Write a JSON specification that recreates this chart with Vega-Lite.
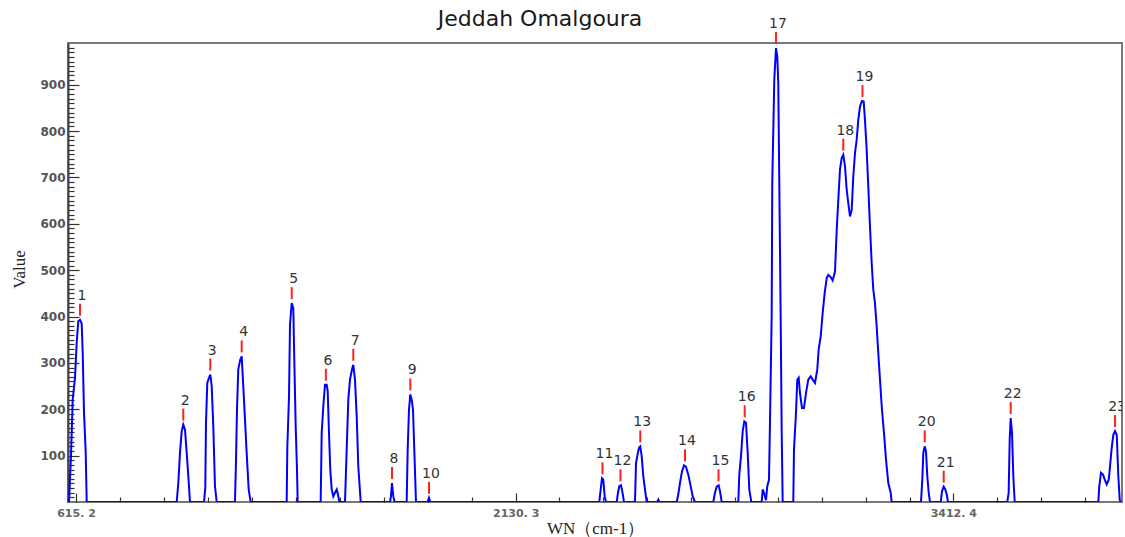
{
  "$schema": "https://vega.github.io/schema/vega-lite/v6.json",
  "width": 1054,
  "height": 459,
  "autosize": {"type": "none"},
  "padding": {"left": 68, "top": 43, "right": 3, "bottom": 35},
  "background": "white",
  "title": {"text": "Jeddah Omalgoura", "font": "DejaVu Sans", "fontSize": 22, "fontWeight": "normal", "color": "#1a1a1a", "anchor": "middle", "dx": -55, "dy": 28, "offset": 14},
  "config": {"view": {"stroke": "#777777", "strokeWidth": 2}},
  "datasets": {
    "spectrum": [
      {"wn": 591.1, "v": 0}, {"wn": 598.0, "v": 102}, {"wn": 603.8, "v": 221}, {"wn": 611.8, "v": 268}, {"wn": 617.6, "v": 344}, {"wn": 623.1, "v": 390}, {"wn": 629.0, "v": 393}, {"wn": 634.8, "v": 385}, {"wn": 638.3, "v": 322}, {"wn": 642.8, "v": 193}, {"wn": 648.6, "v": 107}, {"wn": 652.1, "v": 0},
      {"wn": 962.2, "v": 0}, {"wn": 967.7, "v": 41}, {"wn": 973.5, "v": 106}, {"wn": 979.4, "v": 153}, {"wn": 984.9, "v": 167}, {"wn": 990.8, "v": 156}, {"wn": 996.6, "v": 106}, {"wn": 1002.2, "v": 56}, {"wn": 1008.0, "v": 0},
      {"wn": 1056.2, "v": 0}, {"wn": 1060.7, "v": 31}, {"wn": 1063.1, "v": 171}, {"wn": 1067.6, "v": 257}, {"wn": 1073.5, "v": 268}, {"wn": 1078.0, "v": 275}, {"wn": 1082.8, "v": 250}, {"wn": 1088.3, "v": 163}, {"wn": 1094.1, "v": 34}, {"wn": 1100.0, "v": 0},
      {"wn": 1163.0, "v": 0}, {"wn": 1166.5, "v": 88}, {"wn": 1169.9, "v": 199}, {"wn": 1174.4, "v": 286}, {"wn": 1181.3, "v": 307}, {"wn": 1186.1, "v": 314}, {"wn": 1191.6, "v": 250}, {"wn": 1197.5, "v": 178}, {"wn": 1203.3, "v": 106}, {"wn": 1210.2, "v": 27}, {"wn": 1217.1, "v": 0},
      {"wn": 1341.2, "v": 0}, {"wn": 1343.3, "v": 117}, {"wn": 1349.2, "v": 228}, {"wn": 1352.6, "v": 383}, {"wn": 1358.5, "v": 429}, {"wn": 1364.0, "v": 418}, {"wn": 1367.4, "v": 307}, {"wn": 1372.2, "v": 163}, {"wn": 1376.7, "v": 70}, {"wn": 1379.1, "v": 0},
      {"wn": 1458.3, "v": 0}, {"wn": 1461.8, "v": 149}, {"wn": 1467.3, "v": 206}, {"wn": 1473.2, "v": 253}, {"wn": 1479.0, "v": 253}, {"wn": 1482.5, "v": 239}, {"wn": 1487.0, "v": 149}, {"wn": 1491.4, "v": 70}, {"wn": 1496.3, "v": 27}, {"wn": 1501.8, "v": 12}, {"wn": 1507.6, "v": 20}, {"wn": 1513.5, "v": 27}, {"wn": 1518.0, "v": 16}, {"wn": 1522.4, "v": 0},
      {"wn": 1542.1, "v": 0}, {"wn": 1547.9, "v": 113}, {"wn": 1553.5, "v": 221}, {"wn": 1559.3, "v": 264}, {"wn": 1566.2, "v": 286}, {"wn": 1570.7, "v": 296}, {"wn": 1576.5, "v": 264}, {"wn": 1582.4, "v": 185}, {"wn": 1587.9, "v": 77}, {"wn": 1596.2, "v": 0},
      {"wn": 1697.1, "v": 0}, {"wn": 1700.5, "v": 12}, {"wn": 1704.0, "v": 41}, {"wn": 1708.5, "v": 12}, {"wn": 1713.3, "v": 0},
      {"wn": 1754.6, "v": 0}, {"wn": 1758.1, "v": 113}, {"wn": 1762.6, "v": 199}, {"wn": 1767.1, "v": 232}, {"wn": 1771.9, "v": 221}, {"wn": 1776.4, "v": 199}, {"wn": 1780.9, "v": 113}, {"wn": 1786.7, "v": 0},
      {"wn": 1827.0, "v": 0}, {"wn": 1831.5, "v": 9}, {"wn": 1836.0, "v": 0},
      {"wn": 2375.2, "v": 0}, {"wn": 2379.3, "v": 27}, {"wn": 2383.1, "v": 51}, {"wn": 2386.9, "v": 48}, {"wn": 2391.0, "v": 12}, {"wn": 2394.8, "v": 0},
      {"wn": 2426.3, "v": 0}, {"wn": 2430.0, "v": 20}, {"wn": 2433.8, "v": 34}, {"wn": 2438.8, "v": 36}, {"wn": 2442.6, "v": 23}, {"wn": 2447.6, "v": 0},
      {"wn": 2479.8, "v": 0}, {"wn": 2482.8, "v": 84}, {"wn": 2486.5, "v": 99}, {"wn": 2491.5, "v": 117}, {"wn": 2495.3, "v": 120}, {"wn": 2499.4, "v": 99}, {"wn": 2504.1, "v": 56}, {"wn": 2509.1, "v": 27}, {"wn": 2514.1, "v": 0},
      {"wn": 2545.0, "v": 0}, {"wn": 2548.1, "v": 5}, {"wn": 2551.0, "v": 0},
      {"wn": 2601.9, "v": 0}, {"wn": 2606.6, "v": 16}, {"wn": 2611.6, "v": 41}, {"wn": 2617.5, "v": 66}, {"wn": 2623.4, "v": 79}, {"wn": 2629.2, "v": 76}, {"wn": 2636.0, "v": 59}, {"wn": 2643.0, "v": 34}, {"wn": 2648.9, "v": 12}, {"wn": 2655.6, "v": 0},
      {"wn": 2709.2, "v": 0}, {"wn": 2714.2, "v": 20}, {"wn": 2719.2, "v": 33}, {"wn": 2725.0, "v": 36}, {"wn": 2728.9, "v": 23}, {"wn": 2733.9, "v": 0},
      {"wn": 2782.5, "v": 0}, {"wn": 2785.4, "v": 59}, {"wn": 2790.4, "v": 99}, {"wn": 2795.4, "v": 153}, {"wn": 2800.1, "v": 174}, {"wn": 2805.0, "v": 171}, {"wn": 2810.0, "v": 106}, {"wn": 2814.7, "v": 27}, {"wn": 2820.6, "v": 0},
      {"wn": 2851.0, "v": 0}, {"wn": 2853.9, "v": 27}, {"wn": 2857.7, "v": 20}, {"wn": 2863.6, "v": 4}, {"wn": 2867.4, "v": 34}, {"wn": 2872.4, "v": 48}, {"wn": 2875.3, "v": 171}, {"wn": 2880.3, "v": 403}, {"wn": 2882.0, "v": 688}, {"wn": 2887.9, "v": 910}, {"wn": 2892.9, "v": 979}, {"wn": 2896.7, "v": 961}, {"wn": 2899.6, "v": 903}, {"wn": 2903.7, "v": 609}, {"wn": 2906.6, "v": 400}, {"wn": 2909.6, "v": 153}, {"wn": 2912.5, "v": 0},
      {"wn": 2943.6, "v": 0}, {"wn": 2945.6, "v": 113}, {"wn": 2951.5, "v": 192}, {"wn": 2955.3, "v": 264}, {"wn": 2959.4, "v": 268}, {"wn": 2963.2, "v": 235}, {"wn": 2969.1, "v": 203}, {"wn": 2974.9, "v": 203}, {"wn": 2980.8, "v": 235}, {"wn": 2987.5, "v": 264}, {"wn": 2994.5, "v": 271}, {"wn": 3000.4, "v": 264}, {"wn": 3007.2, "v": 257}, {"wn": 3013.9, "v": 286}, {"wn": 3018.0, "v": 329}, {"wn": 3023.9, "v": 357}, {"wn": 3029.7, "v": 408}, {"wn": 3035.6, "v": 451}, {"wn": 3041.5, "v": 483}, {"wn": 3046.1, "v": 490}, {"wn": 3053.2, "v": 485}, {"wn": 3059.0, "v": 478}, {"wn": 3065.8, "v": 497}, {"wn": 3070.8, "v": 587}, {"wn": 3075.5, "v": 652}, {"wn": 3080.4, "v": 717}, {"wn": 3085.4, "v": 742}, {"wn": 3090.1, "v": 749}, {"wn": 3095.1, "v": 724}, {"wn": 3100.1, "v": 673}, {"wn": 3104.7, "v": 645}, {"wn": 3109.7, "v": 616}, {"wn": 3114.7, "v": 630}, {"wn": 3119.4, "v": 702}, {"wn": 3124.4, "v": 753}, {"wn": 3129.3, "v": 781}, {"wn": 3134.0, "v": 824}, {"wn": 3139.0, "v": 853}, {"wn": 3144.9, "v": 865}, {"wn": 3149.8, "v": 864}, {"wn": 3153.6, "v": 824}, {"wn": 3158.6, "v": 760}, {"wn": 3163.3, "v": 681}, {"wn": 3168.3, "v": 594}, {"wn": 3173.3, "v": 515}, {"wn": 3178.0, "v": 458}, {"wn": 3182.9, "v": 429}, {"wn": 3187.9, "v": 379}, {"wn": 3192.6, "v": 322}, {"wn": 3197.6, "v": 264}, {"wn": 3203.4, "v": 199}, {"wn": 3209.3, "v": 149}, {"wn": 3215.2, "v": 92}, {"wn": 3221.9, "v": 41}, {"wn": 3228.9, "v": 20}, {"wn": 3231.9, "v": 0},
      {"wn": 3317.7, "v": 0}, {"wn": 3321.6, "v": 48}, {"wn": 3324.5, "v": 106}, {"wn": 3328.6, "v": 120}, {"wn": 3332.4, "v": 109}, {"wn": 3336.2, "v": 56}, {"wn": 3340.3, "v": 20}, {"wn": 3344.1, "v": 0},
      {"wn": 3375.5, "v": 0}, {"wn": 3379.3, "v": 23}, {"wn": 3384.3, "v": 33}, {"wn": 3389.0, "v": 27}, {"wn": 3393.1, "v": 16}, {"wn": 3397.0, "v": 0},
      {"wn": 3570.5, "v": 0}, {"wn": 3574.6, "v": 20}, {"wn": 3577.6, "v": 135}, {"wn": 3580.5, "v": 181}, {"wn": 3584.4, "v": 149}, {"wn": 3588.2, "v": 56}, {"wn": 3592.3, "v": 0},
      {"wn": 3837.2, "v": 0}, {"wn": 3840.1, "v": 34}, {"wn": 3845.1, "v": 63}, {"wn": 3851.0, "v": 59}, {"wn": 3856.0, "v": 48}, {"wn": 3861.8, "v": 38}, {"wn": 3867.7, "v": 48}, {"wn": 3871.5, "v": 77}, {"wn": 3876.5, "v": 117}, {"wn": 3881.2, "v": 145}, {"wn": 3886.2, "v": 153}, {"wn": 3891.2, "v": 145}, {"wn": 3895.8, "v": 56}, {"wn": 3899.9, "v": 5}, {"wn": 3902.8, "v": 0}
    ],
    "peaks": [
      {"n": "1", "wn": 629.0, "v": 393}, {"n": "2", "wn": 984.9, "v": 167}, {"n": "3", "wn": 1078.0, "v": 275}, {"n": "4", "wn": 1186.1, "v": 314},
      {"n": "5", "wn": 1358.5, "v": 429}, {"n": "6", "wn": 1476.1, "v": 253}, {"n": "7", "wn": 1570.7, "v": 296}, {"n": "8", "wn": 1704.0, "v": 41},
      {"n": "9", "wn": 1767.1, "v": 232}, {"n": "10", "wn": 1831.5, "v": 9}, {"n": "11", "wn": 2384.6, "v": 51}, {"n": "12", "wn": 2437.3, "v": 36},
      {"n": "13", "wn": 2495.3, "v": 120}, {"n": "14", "wn": 2626.3, "v": 79}, {"n": "15", "wn": 2724.5, "v": 36}, {"n": "16", "wn": 2801.2, "v": 174},
      {"n": "17", "wn": 2892.9, "v": 979}, {"n": "18", "wn": 3090.1, "v": 749}, {"n": "19", "wn": 3146.3, "v": 865}, {"n": "20", "wn": 3328.6, "v": 120},
      {"n": "21", "wn": 3384.3, "v": 33}, {"n": "22", "wn": 3580.5, "v": 181}, {"n": "23", "wn": 3886.2, "v": 153}
    ]
  },
  "layer": [
    {
      "data": {"name": "spectrum"},
      "mark": {"type": "line", "color": "#0000ff", "strokeWidth": 2, "clip": true},
      "encoding": {
        "x": {
          "field": "wn", "type": "quantitative",
          "scale": {"domain": [587.6, 615.2, 2130.3, 3412.4, 3906.6], "range": [0, 8, 447.7, 885.3, 1054], "nice": false, "zero": false},
          "axis": {
            "values": [615.2, 766.7, 918.2, 1069.7, 1221.2, 1372.8, 1524.3, 1675.8, 1827.3, 1978.8, 2130.3, 2258.5, 2386.7, 2514.9, 2643.1, 2771.4, 2899.6, 3027.8, 3156.0, 3284.2, 3412.4, 3540.6, 3668.8, 3797.0],
            "tickCount": 500,
            "labelExpr": "datum.value == 615.2 ? '615. 2' : datum.value == 2130.3 ? '2130. 3' : datum.value == 3412.4 ? '3412. 4' : ''",
            "labelOverlap": false, "labelFlush": false,
            "labelFont": "DejaVu Sans", "labelFontSize": 11, "labelFontWeight": "bold", "labelColor": "#666666", "labelPadding": 14,
            "domain": false, "grid": false,
            "tickColor": "#333333", "tickWidth": 1.2,
            "tickSize": {"condition": {"test": "datum.value == 615.2 || datum.value == 2130.3 || datum.value == 3412.4", "value": -9}, "value": -5},
            "title": "WN（cm-1）", "titleFont": "Liberation Serif", "titleFontSize": 17, "titleFontWeight": "normal", "titleColor": "#222222",
            "titleY": 31, "titleBaseline": "alphabetic"
          }
        },
        "y": {
          "field": "v", "type": "quantitative",
          "scale": {"domain": [0, 990], "nice": false, "zero": true},
          "axis": {
            "values": [10,20,30,40,50,60,70,80,90,100,110,120,130,140,150,160,170,180,190,200,210,220,230,240,250,260,270,280,290,300,310,320,330,340,350,360,370,380,390,400,410,420,430,440,450,460,470,480,490,500,510,520,530,540,550,560,570,580,590,600,610,620,630,640,650,660,670,680,690,700,710,720,730,740,750,760,770,780,790,800,810,820,830,840,850,860,870,880,890,900,910,920,930,940,950,960,970,980],
            "tickCount": 500,
            "labelExpr": "datum.value % 100 == 0 ? datum.value : ''",
            "labelOverlap": false, "labelFlush": false,
            "labelFont": "DejaVu Sans", "labelFontSize": 12, "labelFontWeight": "bold", "labelColor": "#555555", "labelPadding": 14,
            "domain": true, "domainColor": "#444444", "domainWidth": 2, "grid": false,
            "tickColor": "#333333", "tickWidth": 1.2,
            "tickSize": {"condition": {"test": "datum.value % 100 == 0", "value": -11}, "value": -6},
            "title": "Value", "titleFont": "Liberation Serif", "titleFontSize": 17, "titleFontWeight": "normal", "titleColor": "#222222",
            "titleX": -44, "titleY": 226, "titleBaseline": "alphabetic"
          }
        }
      }
    },
    {
      "data": {"name": "peaks"},
      "mark": {"type": "rule", "color": "#ff2020", "strokeWidth": 2, "yOffset": -4, "y2Offset": -16},
      "encoding": {
        "x": {"field": "wn", "type": "quantitative"},
        "y": {"field": "v", "type": "quantitative"},
        "y2": {"field": "v"}
      }
    },
    {
      "data": {"name": "peaks"},
      "transform": [{"filter": "datum.n != '17'"}],
      "mark": {"type": "text", "clip": true, "yOffset": -24, "dx": 2, "font": "DejaVu Sans", "fontSize": 14, "color": "#333333"},
      "encoding": {
        "x": {"field": "wn", "type": "quantitative"},
        "y": {"field": "v", "type": "quantitative"},
        "text": {"field": "n"}
      }
    },
    {
      "data": {"name": "peaks"},
      "transform": [{"filter": "datum.n == '17'"}],
      "mark": {"type": "text", "yOffset": -24, "dx": 2, "font": "DejaVu Sans", "fontSize": 14, "color": "#333333"},
      "encoding": {
        "x": {"field": "wn", "type": "quantitative"},
        "y": {"field": "v", "type": "quantitative"},
        "text": {"field": "n"}
      }
    }
  ]
}
